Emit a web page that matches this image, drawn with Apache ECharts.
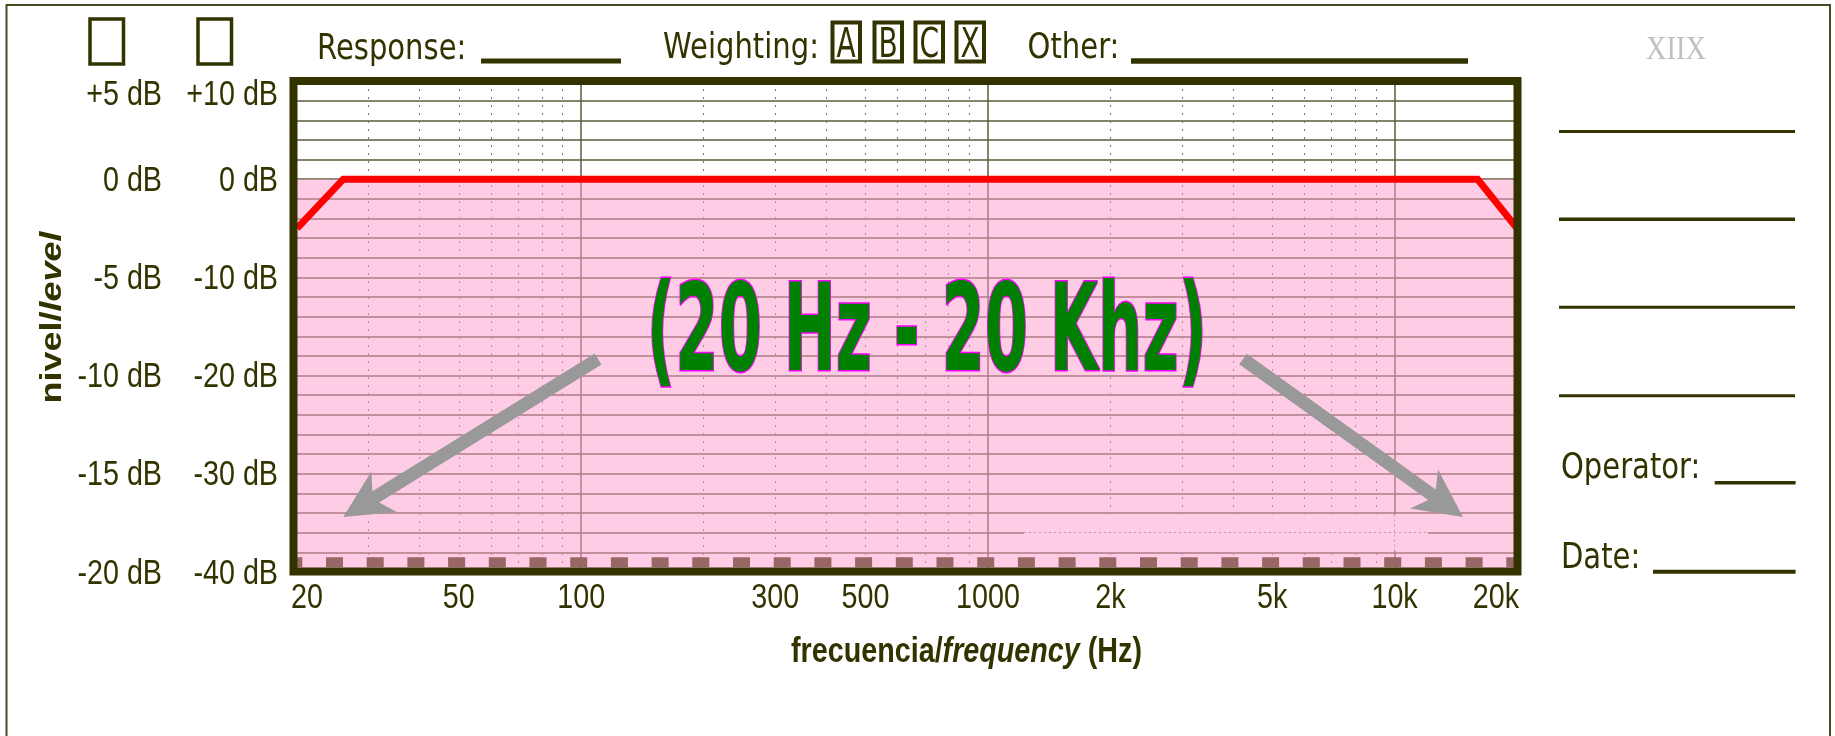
<!DOCTYPE html>
<html><head><meta charset="utf-8">
<script src="https://cdn.jsdelivr.net/npm/echarts@6/dist/echarts.min.js"></script>
<style>html,body{margin:0;padding:0;background:#fff}#c{width:1835px;height:736px}</style>
</head><body><div id="c"></div>
<script>
// ---------- data ----------
const freqTicks = [20, 50, 100, 300, 500, 1000, 2000, 5000, 10000, 20000];
const freqTickLabels = ['20', '50', '100', '300', '500', '1000', '2k', '5k', '10k', '20k'];
const minorFreqs = [30, 40, 50, 60, 70, 80, 90, 200, 300, 400, 500, 600, 700, 800, 900,
                    2000, 3000, 4000, 5000, 6000, 7000, 8000, 9000];
const decadeFreqs = [100, 1000, 10000];
const levelTicks = [-40, -30, -20, -10, 0, 10];
const relLevelTicks = [-20, -15, -10, -5, 0, 5];
const responseFreq = [20, 26, 16000, 20000];
const responseDb = [-5, 0, 0, -5];
const bandFreq = [20, 20000];
const bandDb = [-40, 0];
const baseDashDb = -39;
const patchFreq = [1227, 12080];
const patchDb = [-34.15, -37.85];
const patchLineDb = -36;
const patchLineFreq = 10000;
const arrowLeftFrom = [110, -18.3];
const arrowLeftTo = [26, -34.4];
const arrowRightFrom = [4240, -18.3];
const arrowRightTo = [14730, -34.4];

// ---------- style ----------
const TXT = '#333300';
const SANS = "'Liberation Sans',Arial,sans-serif";
const DV = "'DejaVu Sans',sans-serif";
const G = { left: 297, top: 81, width: 1220, height: 491 };

const chart = echarts.init(document.getElementById('c'), null, { renderer: 'canvas' });

const option = {
  animation: false,
  backgroundColor: '#ffffff',
  grid: { left: G.left, top: G.top, width: G.width, height: G.height, show: false },
  xAxis: [{
    type: 'log', logBase: 10, min: 20, max: 20000,
    axisLine: { show: false },
    axisTick: { show: false, customValues: minorFreqs },
    splitLine: { show: true, lineStyle: { color: '#777777', width: 1, type: [2, 6] } },
    axisLabel: { show: false }
  }, {
    type: 'log', logBase: 10, min: 20, max: 20000, position: 'bottom',
    axisLine: { show: false },
    axisTick: { show: false, customValues: decadeFreqs },
    axisLabel: { show: false },
    splitLine: { show: true, lineStyle: { color: '#5c5c3d', width: 1.5 } }
  }],
  yAxis: [{
    type: 'value', min: -40, max: 10, interval: 2,
    axisLine: { show: false }, axisTick: { show: false },
    splitLine: { show: true, lineStyle: { color: '#5c5c3d', width: 1.5 } },
    axisLabel: { show: false }
  }, {
    type: 'value', min: -20, max: 5, interval: 5, position: 'left', offset: 116,
    axisLine: { show: false }, axisTick: { show: false }, splitLine: { show: false },
    axisLabel: { show: false }
  }],
  series: [{
    type: 'line', name: 'base', z: 1, xAxisIndex: 0, yAxisIndex: 0, symbol: 'none', silent: true,
    data: bandFreq.map(f => [f, baseDashDb]),
    lineStyle: { color: '#333300', width: 10, type: [17, 23.7], dashOffset: 11.7, cap: 'butt' }
  }, {
    type: 'line', name: 'band', z: 2, xAxisIndex: 0, yAxisIndex: 0, data: [], silent: true,
    markArea: {
      z: 2, silent: true, itemStyle: { color: 'rgba(255,153,204,0.5)' },
      data: [
        [{ xAxis: bandFreq[0], yAxis: bandDb[1] }, { xAxis: bandFreq[1], yAxis: bandDb[0] }],
        [{ xAxis: patchFreq[0], yAxis: patchDb[0], itemStyle: { color: '#ffcce6' } },
         { xAxis: patchFreq[1], yAxis: patchDb[1] }]
      ]
    },
    markLine: {
      z: 2, silent: true, symbol: 'none', label: { show: false },
      lineStyle: { color: '#b79aa6', width: 1, type: [2, 3] },
      data: [
        [{ coord: [patchFreq[0], patchLineDb] }, { coord: [patchFreq[1], patchLineDb] }],
        [{ coord: [patchLineFreq, patchDb[0]] }, { coord: [patchLineFreq, patchDb[1] - 0.6] }]
      ]
    }
  }, {
    type: 'line', name: 'response', z: 3, xAxisIndex: 0, yAxisIndex: 0, symbol: 'none', silent: true,
    data: responseFreq.map((f, i) => [f, responseDb[i]]),
    lineStyle: { color: '#ff0000', width: 7, join: 'miter' }
  }]
};
chart.setOption(option);

// ---------- decorations & labels ----------
const Z = 100;
function arrowPoly(from, to) {
  const f = { xAxisIndex: 0, yAxisIndex: 0 };
  const s = chart.convertToPixel(f, from);
  const t = chart.convertToPixel(f, to);
  const dx = t[0] - s[0], dy = t[1] - s[1], len = Math.hypot(dx, dy);
  const u = [dx / len, dy / len], n = [-u[1], u[0]];
  const L = 48, H = 24, w = 6.5, notch = 0.72;
  const k = (notch + (1 - notch) * w / H) * L;
  const p = (b, a, c) => [b[0] + a * u[0] + c * n[0], b[1] + a * u[1] + c * n[1]];
  return [p(s, 0, w), p(t, -k, w), p(t, -L, H), t, p(t, -L, -H), p(t, -k, -w), p(s, 0, -w)];
}
function txt(text, x, y, size, o) {
  o = o || {};
  return {
    type: 'text', x: x, y: y, z: Z, scaleX: o.scaleX || 0.83, silent: true,
    style: { text: text, fill: o.fill || TXT, fontFamily: o.font || DV, fontSize: size,
             fontWeight: o.weight || 'normal', align: o.align || 'left', verticalAlign: o.valign || 'middle' }
  };
}
function hline(x1, x2, y, w) {
  return { type: 'line', z: Z, silent: true, shape: { x1: x1, y1: y, x2: x2, y2: y }, style: { stroke: TXT, lineWidth: w } };
}
function box(x, y, w, h, lw) {
  return { type: 'rect', z: Z, silent: true, shape: { x: x, y: y, width: w, height: h }, style: { fill: null, stroke: TXT, lineWidth: lw } };
}
const dbFmt = v => (v > 0 ? '+' : '') + v + ' dB';

const graphics = [
  { type: 'rect', z: Z, silent: true, shape: { x: 6.5, y: 5, width: 1823.5, height: 780 }, style: { fill: null, stroke: '#4a4a22', lineWidth: 2 } },
  { type: 'rect', z: Z, silent: true, shape: { x: 293.5, y: 81, width: 1224, height: 490.5 }, style: { fill: null, stroke: TXT, lineWidth: 8 } },
  box(90, 19, 33.5, 45, 3.5), box(198, 19, 33.5, 45, 3.5),
  txt('Response:', 317, 50, 35), hline(481, 621, 61, 5),
  txt('Weighting:', 663, 49, 35),
  box(832.5, 22.5, 27.5, 39, 4), box(874.5, 22.5, 27.5, 39, 4), box(915.5, 22.5, 27.5, 39, 4), box(956.5, 22.5, 27.5, 39, 4),
  txt('A', 846.2, 47, 40, { scaleX: 0.7, align: 'center' }),
  txt('B', 888.2, 47, 40, { scaleX: 0.7, align: 'center' }),
  txt('C', 929.2, 47, 40, { scaleX: 0.7, align: 'center' }),
  txt('X', 970.2, 47, 40, { scaleX: 0.7, align: 'center' }),
  txt('Other:', 1027.6, 49, 35), hline(1131, 1468, 61, 5.5),
  txt('XIIX', 1676, 50, 33, { scaleX: 0.86, fill: '#c0c0c0', font: "'Liberation Serif',serif", align: 'center' }),
  hline(1559, 1795, 131.5, 3), hline(1559, 1795, 219.3, 3.5), hline(1559, 1795, 307.3, 3), hline(1559, 1795, 395.7, 3),
  txt('Operator:', 1561, 469, 35), hline(1714.7, 1795.6, 482.7, 3.5),
  txt('Date:', 1561, 559, 35), hline(1653, 1795.6, 571.7, 4),
  { type: 'text', x: 966.5, y: 652, z: Z, scaleX: 0.82, silent: true,
    style: { text: '{a|frecuencia/}{b|frequency}{a| (Hz)}', fill: TXT, align: 'center', verticalAlign: 'middle',
      fontFamily: SANS, fontWeight: 'bold', fontSize: 35,
      rich: { a: { fill: TXT, fontFamily: SANS, fontWeight: 'bold', fontSize: 35 },
              b: { fill: TXT, fontFamily: SANS, fontWeight: 'bold', fontStyle: 'italic', fontSize: 35 } } } },
  { type: 'text', x: 53, y: 317.5, z: Z, rotation: Math.PI / 2, scaleY: 0.82, silent: true,
    style: { text: '{a|nivel/}{b|level}', fill: TXT, align: 'center', verticalAlign: 'middle',
      fontFamily: SANS, fontWeight: 'bold', fontSize: 36,
      rich: { a: { fill: TXT, fontFamily: SANS, fontWeight: 'bold', fontSize: 36 },
              b: { fill: TXT, fontFamily: SANS, fontWeight: 'bold', fontStyle: 'italic', fontSize: 36 } } } },
  { type: 'polygon', z: Z, silent: true, shape: { points: arrowPoly(arrowLeftFrom, arrowLeftTo) }, style: { fill: '#999999' } },
  { type: 'polygon', z: Z, silent: true, shape: { points: arrowPoly(arrowRightFrom, arrowRightTo) }, style: { fill: '#999999' } },
  { type: 'text', x: 927, y: 339, z: Z + 1, scaleX: 0.515, silent: true,
    style: { text: '(20 Hz - 20 Khz)', fill: '#008000', stroke: '#ff00ff', lineWidth: 3,
      fontFamily: DV, fontWeight: 'bold', fontSize: 121, align: 'center', verticalAlign: 'middle' } }
];

// tick labels placed through the axes' own scales
const LBL = { scaleX: 0.82, font: SANS };
levelTicks.forEach((v, i) => {
  const py = chart.convertToPixel({ yAxisIndex: 0 }, v);
  const isMax = i === levelTicks.length - 1;
  graphics.push(txt(dbFmt(v), G.left - 19, isMax ? py + 14 : py + 2, 35, Object.assign({ align: 'right' }, LBL)));
});
relLevelTicks.forEach((v, i) => {
  const py = chart.convertToPixel({ yAxisIndex: 1 }, v);
  const isMax = i === relLevelTicks.length - 1;
  graphics.push(txt(dbFmt(v), G.left - 135, isMax ? py + 14 : py + 2, 35, Object.assign({ align: 'right' }, LBL)));
});
freqTicks.forEach((f, i) => {
  const px = chart.convertToPixel({ xAxisIndex: 0 }, f);
  let align = 'center', x = px;
  if (i === 0) { align = 'left'; x = px - 6; }
  if (i === freqTicks.length - 1) { align = 'right'; x = px + 2; }
  graphics.push(txt(freqTickLabels[i], x, G.top + G.height + 26, 35, Object.assign({ align: align }, LBL)));
});

chart.setOption({ graphic: graphics });
</script></body></html>
